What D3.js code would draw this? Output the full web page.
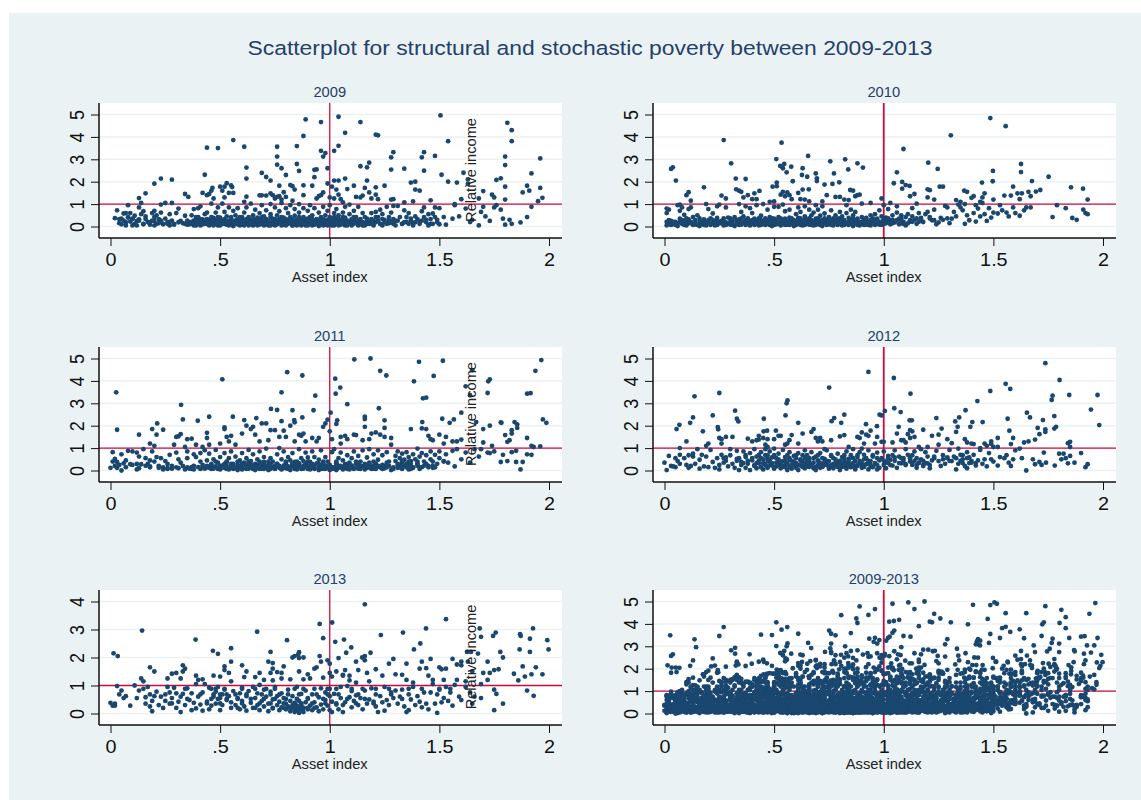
<!DOCTYPE html>
<html><head><meta charset="utf-8">
<script src="https://cdn.jsdelivr.net/npm/d3@7"></script>
<style>html,body{margin:0;padding:0;background:#fff}svg{display:block}text{font-family:"Liberation Sans",Arial,sans-serif}</style>
</head><body><div id="chart"></div>
<script>
const chartTitle="Scatterplot for structural and stochastic poverty between 2009-2013";
const xTickValues=[0,.5,1,1.5,2];
const xTickLabels=["0",".5","1","1.5","2"];
const yTicksMain=[0,1,2,3,4,5];
const yTicks2013=[0,1,2,3,4];
const refX=1, refY=1;

const points2009=[
[.89,4.78],[.96,4.66],[1.04,4.9],[1.14,4.66],[1.505,4.96],[1.81,4.63],[1.83,4.3],[1.83,3.81],[.88,4.04],[1.07,4.18],[1.21,4.1],[1.22,4.07],[1.54,3.81],[.56,3.86],[.44,3.52],[.49,3.5],[.61,3.56],[.76,3.56],[.85,3.59],[1.04,3.6],[1.02,3.38],[.96,3.38],[.98,3.28],[.97,3.12],[.76,3.12],[1.29,3.32],[1.28,3.09],[1.43,3.32],[1.42,3.09],[1.48,3.15],[1.8,3.12],[1.96,3.04],[.85,2.79],[.76,2.76],[.78,2.6],[.62,2.63],[.99,2.6],[.94,2.55],[.93,2.53],[1.14,2.69],[1.18,2.85],[1.17,2.64],[1.28,2.54],[1.34,2.58],[1.43,2.49],[1.8,2.74],[1.92,2.37],[.86,2.48],[.69,2.39],[.43,2.31],[.71,2.21],[.8,2.3],[.93,2.2],[1.51,2.31],[1.61,2.4],[.23,2.14],[.62,2.14],[.28,2.09],[.73,2.05],[.2,1.91],[1.02,2.05],[1.04,2.05],[1.07,2.14],[1.17,2.05],[1.54,2],[1.58,1.96],[1.37,1.96],[1.39,2],[1.76,2.08],[1.78,2.15],[1.63,2.1],[1.63,1.9],
[.16,1.48],[.13,1.27],[.34,1.45],[.355,1.32],[.42,1.5],[.44,1.4],[.45,1.45],[.46,1.6],[.465,1.72],[.5,1.78],[.51,1.6],[.52,1.78],[.53,1.93],[.55,1.83],[.555,1.76],[.54,1.5],[.56,1.5],[.52,1.3],[.47,1.25],[.62,1.33],[.61,1.1],[.68,1.39],[.69,1.39],[.71,1.38],[.73,1.48],[.74,1.4],[.75,1.25],[.76,1.32],[.77,1.35],[.77,1.82],[.78,1.2],[.79,1.53],[.8,1.32],[.82,1.85],[.83,1.8],[.83,1.15],[.84,1.65],[.88,1.84],[.92,1.82],[.88,1.4],[.94,1.25],[.95,1.35],[.96,1.4],[.97,1.52],[.99,1.92],[1,1.3],[1.01,1.78],[1.02,1.25],[1.03,1.65],[1.04,1.42],[1.06,1.08],[1.08,1.67],[1.11,1.82],[1.12,1.32],[1.14,1.3],[1.15,1.38],[1.16,1.72],[1.18,1.52],[1.19,1.25],[1.21,1.75],[1.21,1.42],[1.25,1.82],[1.22,1.22],[1.28,1.2],[1.29,1.22],[1.38,1.12],[1.39,1.65],[1.41,1.6],[1.46,1.17],[1.6,1.22],[1.7,1.58],[1.68,1.25],[1.74,1.42],[1.75,1.3],[1.8,1.78],[1.8,1.2],[1.88,1.52],[1.9,1.82],[1.91,1.6],[1.96,1.72],[1.97,1.28],[1.95,1.13],[1.05,1.22],[1.34,1.08],[1.57,1],
[.03,.72],[.02,.37],[.04,.15],[.05,.35],[.05,.1],[.06,.58],[.07,.05],[.07,.6],[.08,.95],[.08,.4],[.09,.22],[.09,.6],[.1,.05],[.1,.35],[.11,.48],[.11,.12],[.12,.25],[.13,.85],[.13,.32],[.14,.55],[.14,1.05],[.15,.68],[.15,.1],[.16,.45],[.17,.2],[.18,.08],[.19,.6],[.2,.7],[.2,.25],[.21,.5],[.22,.15],[.23,.62],[.23,.98],[.24,.1],[.25,.35],[.25,1.05],[.26,.12],[.27,.55],[.27,.2],[.28,1.05],[.29,.08],[.3,.6],[.31,.8],[.32,.25],[.33,.15],[.34,.48],[.35,.08],[.36,.1],[.37,.2],[.37,.5],[.38,.78],[.38,.12],[.39,.3],[.39,.05],[.4,.82],[.4,.42],[.41,.9],[.41,.18],[.42,.1],[.42,.32],[.43,.55],[.43,.22],[.44,.12],[.44,.62],[.45,.3],[.45,.08],[.46,1.02],[.46,.2],[.47,.38],[.47,.15],[.48,.62],[.48,.28],[.49,.05],[.49,.85],[.5,.2],[.5,.4],[.51,.12],[.51,1.02],[.52,.3],[.52,.65],[.53,.08],[.53,.45],[.54,.22],[.54,.85],[.55,.12],[.55,.35],[.56,.02],[.56,.7],[.57,.25],[.57,.5],[.58,.1],[.58,.82],[.59,.3],[.59,.18],[.6,.42],[.6,.08],[.61,.28],[.61,.62],[.62,.15],[.62,.85],[.63,.35],[.63,.05],[.64,.22],[.64,1.02],[.65,.5],[.65,.12],[.66,.3],[.66,.75],[.67,.18],[.67,.4],[.68,.08],[.68,.6],[.69,.28],[.69,.95],[.7,.15],[.7,.45],[.71,.72],[.71,.3],[.72,.05],[.72,.2],[.73,.55],[.73,1],[.74,.12],[.74,.35],[.75,.25],[.75,.85],[.76,.5],[.76,.1],[.77,.3],[.77,.68],[.78,.18],[.78,1.05],[.79,.4],[.79,.08],[.8,.25],[.8,.82],[.81,.6],[.81,.14],[.82,.35],[.82,.95],[.83,.05],[.83,.22],[.84,.48],[.84,.78],[.85,.15],[.85,.32],[.86,.62],[.86,1],[.87,.1],[.87,.28],[.88,.42],[.88,.82],[.89,.18],[.89,.05],[.9,.35],[.9,.7],[.91,.12],[.91,.95],[.92,.25],[.92,.5],[.93,.08],[.93,.82],[.94,.3],[.94,.18],[.95,.62],[.95,.02],[.96,.12],[.96,.38],[.97,.22],[.97,.88],[.98,.5],[.98,.08],[.99,.3],[.99,.7],[1,.15],[1,.42],[1,.95],[1.01,.05],[1.01,.25],[1.02,.6],[1.02,.12],[1.03,.78],[1.03,.35],[1.04,.18],[1.04,.5],[1.05,.08],[1.05,.3],[1.06,.62],[1.06,.15],[1.07,.88],[1.07,.4],[1.08,.22],[1.08,.05],[1.09,.55],[1.09,.98],[1.1,.12],[1.1,.3],[1.11,.7],[1.12,.18],[1.12,.42],[1.13,.88],[1.13,.08],[1.14,.25],[1.15,.6],[1.15,.05],[1.16,.15],[1.17,.35],[1.18,.12],[1.19,.6],[1.2,.2],[1.21,.65],[1.22,.42],[1.23,.75],[1.23,.12],[1.24,.55],[1.25,.3],[1.26,.88],[1.27,.15],[1.28,.62],[1.29,.92],[1.3,.25],[1.31,.92],[1.32,.42],[1.33,.12],[1.34,.72],[1.35,.2],[1.36,.6],[1.37,.35],[1.38,.15],[1.39,.45],[1.41,.22],[1.42,.68],[1.43,.85],[1.44,.3],[1.45,.55],[1.46,.12],[1.47,.58],[1.48,.85],[1.49,.3],[1.5,.82],[1.5,.1],[1.52,.42],[1.53,.08],[1.56,.35],[1.57,.95],[1.59,.45],[1.62,.8],[1.64,.2],[1.65,.3],[1.68,.05],[1.69,.65],[1.7,.88],[1.71,.45],[1.73,.25],[1.75,.85],[1.76,.95],[1.78,.75],[1.79,.35],[1.8,.08],[1.82,.3],[1.83,.12],[1.87,.18],[1.9,.42],[1.92,.88]
];
const band2009=[
[.05,[.12,.2,.27,.38,.41,.45,.47,.5,.54,.56,.59,.61,.65,.67,.7,.73,.75,.78,.8,.83,.85,.87,.9,.92,.95,.97,.99,1.02,1.04,1.07,1.1,1.13,1.16,1.2,1.24,1.3,1.38,1.45]],
[.12,[.15,.21,.24,.29,.34,.37,.39,.43,.44,.46,.48,.52,.53,.56,.58,.6,.63,.64,.66,.69,.71,.73,.76,.79,.81,.84,.86,.88,.91,.93,.95,.98,1.01,1.03,1.05,1.08,1.11,1.14,1.17,1.19,1.23,1.26,1.29,1.33,1.36,1.41,1.47]],
[.19,[.07,.18,.26,.31,.36,.38,.4,.42,.45,.47,.49,.51,.54,.56,.58,.61,.63,.65,.68,.7,.72,.74,.77,.79,.82,.84,.87,.89,.9,.92,.95,.97,1,1.02,1.05,1.07,1.09,1.12,1.15,1.18,1.21,1.25,1.28,1.34,1.39,1.44,1.49]],
[.26,[.06,.13,.19,.23,.28,.35,.38,.41,.43,.46,.48,.5,.53,.55,.57,.6,.62,.64,.67,.69,.72,.74,.76,.78,.81,.83,.85,.88,.9,.93,.96,.98,1.01,1.03,1.06,1.08,1.11,1.13,1.17,1.2,1.22,1.27,1.31,1.37,1.42]],
[.33,[.04,.1,.16,.22,.39,.41,.44,.47,.5,.52,.55,.58,.62,.65,.68,.71,.75,.77,.8,.83,.86,.89,.92,.94,.97,1,1.04,1.07,1.1,1.14,1.19,1.24,1.29,1.4,1.46]],
[.42,[.08,.2,.39,.46,.49,.55,.59,.63,.69,.73,.78,.82,.86,.91,.96,1.02,1.06,1.11,1.16,1.21,1.27,1.35,1.43,1.48]]
];

const points2010=[
[1.486,4.84],[1.556,4.48],[1.306,4.07],[.27,3.86],[.534,3.74],[1.09,3.46],[.655,3.15],[.51,3.01],[.824,3],[.756,2.91],[.304,2.82],[.88,2.82],[1.203,2.85],[1.626,2.79],[.038,2.64],[.03,2.57],[.528,2.7],[.546,2.79],[.54,2.6],[.578,2.67],[.63,2.6],[.905,2.63],[.838,2.55],[1.246,2.57],[1.06,2.42],[1.498,2.48],[1.626,2.43],[.557,2.42],[.69,2.37],[.773,2.37],[.627,2.3],[.651,2.22],[1.752,2.22],[.052,2.05],[.325,2.14],[.37,2.12],[.695,2.15],[.695,2.03],[.585,2.02],[.512,1.96],[1.046,1.93],[1.084,1.99],[1.448,1.96],[1.497,2.02],[1.676,2.03],[.73,1.87],[.766,1.9],[.797,1.97],[.493,1.78],[.512,1.8],[.18,1.75],[1.118,1.81],[1.255,1.78],[1.27,1.78],[1.59,1.78],[1.854,1.75],[1.909,1.69],[1.084,1.69],[.327,1.66],[.658,1.66],[.847,1.63],[1.2,1.66],[1.367,1.6],[1.694,1.56],[1.714,1.63],[.11,1.53],[.433,1.59],[.34,1.6],[.35,1.55],[.1,1.4],[.26,1.38],[.28,1.25],[.36,1.3],[.38,1.4],[.4,1.22],[.41,1.48],[.42,1.22],[.5,1.12],[.53,1.42],[.54,1.55],[.55,1.35],[.56,1.52],[.57,1.4],[.58,1.22],[.61,1.5],[.62,1.22],[.63,1.65],[.64,1.2],[.66,1.12],[.72,1.12],[.74,1.4],[.78,1.32],[.8,1.32],[.82,1.2],[.84,1.18],[.86,1.6],[.87,1.35],[.88,1.4],[.89,1.42],[.9,1.02],[.94,1.05],[.99,1.25],[1.03,1.05],[1.1,1.85],[1.12,1.35],[1.14,1.45],[1.15,1.02],[1.2,1.3],[1.21,1.62],[1.23,1.2],[1.33,1.18],[1.35,1.1],[1.38,1.55],[1.4,1.28],[1.41,1.35],[1.44,1.1],[1.45,1.3],[1.46,1.48],[1.5,1.2],[1.55,1.38],[1.58,1.38],[1.62,1.22],[1.63,1.48],[1.61,1.48],[1.66,1.55],[1.67,1.35],[1.93,1.2],[.12,1.15],[.48,1.1],[.07,.98],
[.01,.8],[.01,.6],[.01,.2],[.01,.05],[.02,.75],[.02,.15],[.03,.08],[.03,.25],[.04,.12],[.05,.2],[.06,.95],[.06,.02],[.07,.35],[.07,.7],[.08,.12],[.08,.85],[.09,.25],[.09,.52],[.1,.05],[.11,.32],[.11,.78],[.12,.15],[.12,.85],[.13,.42],[.14,.1],[.15,.5],[.16,.02],[.17,.18],[.18,.32],[.19,.05],[.19,1],[.2,.78],[.2,.22],[.21,.1],[.22,.58],[.22,.3],[.23,.05],[.24,.9],[.24,.38],[.25,.14],[.25,.98],[.26,.25],[.27,.05],[.28,.85],[.28,.18],[.29,.4],[.3,.08],[.31,.22],[.32,.42],[.32,.02],[.33,.15],[.34,.32],[.34,1],[.35,.08],[.35,.65],[.36,.2],[.36,.45],[.37,.1],[.37,.9],[.38,.3],[.39,.05],[.39,.82],[.4,.18],[.4,.6],[.41,.35],[.42,.12],[.42,.95],[.43,.25],[.43,.05],[.44,.48],[.45,.15],[.45,1],[.46,.32],[.46,.08],[.47,.22],[.47,.75],[.48,.12],[.48,.42],[.49,.02],[.49,.25],[.5,.35],[.5,.88],[.51,.1],[.51,.18],[.52,.42],[.52,.88],[.53,.05],[.53,.28],[.54,.15],[.54,.98],[.55,.35],[.55,.68],[.56,.08],[.56,.22],[.57,.4],[.57,.75],[.58,.12],[.58,.3],[.59,.02],[.6,.2],[.6,.55],[.61,.38],[.61,.85],[.62,.12],[.62,.65],[.63,.25],[.63,.05],[.64,.45],[.64,.9],[.65,.15],[.65,.3],[.66,.75],[.66,.08],[.67,.5],[.67,.22],[.68,.05],[.68,.62],[.69,.35],[.69,.95],[.7,.12],[.7,.75],[.71,.25],[.71,.48],[.72,.02],[.72,.9],[.73,.18],[.73,.58],[.74,.3],[.74,.08],[.75,.42],[.75,.15],[.76,.72],[.77,.25],[.77,.05],[.78,.5],[.78,.18],[.79,.1],[.79,.35],[.8,.65],[.8,.22],[.81,.05],[.81,.45],[.82,.15],[.82,.28],[.83,.6],[.83,.95],[.84,.1],[.84,.38],[.85,.75],[.85,.2],[.86,.02],[.86,.5],[.87,.28],[.87,.65],[.88,.12],[.88,.35],[.89,.2],[.89,.05],[.9,.42],[.9,.15],[.91,.28],[.92,.08],[.92,.38],[.93,.18],[.94,.5],[.94,.05],[.95,.25],[.96,.12],[.96,.55],[.97,.35],[.98,.08],[.98,.72],[.99,.2],[.99,.45],[1,.95],[1,.3],[1,.12],[1.01,.4],[1.02,.78],[1.02,.22],[1.03,.1],[1.04,.5],[1.04,.3],[1.05,.18],[1.06,.62],[1.06,.9],[1.07,.35],[1.07,.1],[1.08,.5],[1.08,.25],[1.09,.12],[1.1,.42],[1.1,.05],[1.11,.55],[1.12,.22],[1.13,.82],[1.13,.45],[1.14,.3],[1.15,.12],[1.16,.6],[1.17,.38],[1.18,.2],[1.19,.55],[1.2,.65],[1.21,.42],[1.22,.28],[1.23,.75],[1.24,.1],[1.25,.18],[1.26,.38],[1.27,.3],[1.28,.92],[1.29,.85],[1.3,.15],[1.31,.35],[1.32,.65],[1.33,.45],[1.34,.98],[1.35,.85],[1.36,.72],[1.37,.12],[1.37,1],[1.38,.5],[1.39,.28],[1.41,.6],[1.42,.95],[1.42,.22],[1.43,.8],[1.44,.45],[1.45,1.05],[1.46,.55],[1.47,.25],[1.48,.82],[1.49,.4],[1.5,.62],[1.52,.58],[1.53,.95],[1.54,.72],[1.56,.62],[1.57,.45],[1.59,.85],[1.6,.6],[1.62,.48],[1.64,.72],[1.65,.85],[1.67,.85],[1.79,.95],[1.77,.42],[1.83,.82],[1.86,.38],[1.88,.3],[1.91,.75],[1.92,.6],[1.93,.55]
];
const band2010=[
[.07,[.03,.05,.09,.13,.15,.18,.21,.24,.28,.31,.34,.37,.39,.41,.44,.46,.48,.5,.53,.55,.57,.6,.62,.64,.67,.69,.71,.74,.76,.79,.82,.84,.88,.91,.93,.96,.99]],
[.14,[.02,.06,.08,.11,.14,.17,.19,.22,.26,.29,.33,.35,.38,.4,.42,.45,.47,.49,.52,.54,.56,.59,.61,.63,.65,.68,.7,.72,.75,.77,.8,.83,.86,.89,.92,.94,.97,1.01,1.04,1.08,1.11]],
[.21,[.03,.04,.07,.1,.12,.16,.18,.23,.25,.27,.3,.34,.36,.39,.41,.43,.46,.48,.5,.53,.55,.58,.6,.62,.66,.68,.7,.73,.75,.78,.81,.84,.87,.9,.93,.95,.98,1.02,1.05,1.09,1.13,1.16]],
[.28,[.02,.08,.11,.14,.2,.24,.31,.33,.37,.4,.42,.44,.47,.51,.54,.57,.59,.61,.64,.67,.69,.72,.76,.78,.81,.85,.88,.91,.94,.97,1,1.03,1.06,1.12,1.17,1.23]],
[.36,[.1,.16,.21,.27,.3,.35,.38,.43,.46,.49,.53,.58,.62,.66,.7,.73,.77,.8,.86,.92,.95,1.02,1.08,1.15,1.21,1.29]]
];

const points2011=[
[.026,3.49],[.51,4.07],[.806,4.39],[.875,4.24],[1.112,4.96],[1.186,5],[1.23,4.45],[1.258,4.24],[1.025,4.1],[1.048,3.7],[1.027,3.43],[.934,3.34],[.78,3.49],[1.08,2.96],[.322,2.93],[1.407,4.85],[1.516,4.9],[1.474,4.22],[1.384,3.98],[1.965,4.93],[1.938,4.45],[1.73,4.07],[1.723,3.98],[1.72,3.46],[1.9,3.43],[1.916,3.45],[1.425,3.22],[1.44,3.25],[1.65,4.48],[1.62,3.76],[1.64,3.36],[1.224,2.78],[.732,2.75],[.76,2.7],[.83,2.69],[.926,2.69],[1.004,2.58],[1.6,2.58],[.558,2.4],[.45,2.4],[.665,2.34],[.875,2.37],[1.16,2.4],[1.16,2.3],[.33,2.28],[.398,2.22],[.61,2.25],[.838,2.25],[.99,2.27],[1.034,2.24],[1.25,2.24],[1.513,2.31],[1.566,2.28],[1.547,2.13],[1.422,2.16],[1.668,2.16],[1.972,2.28],[1.988,2.13],[1.783,2.13],[.213,2.1],[1.843,2.16],[1.855,2.06],[1.855,1.9],[.03,1.82],[.19,1.85],[.24,1.82],[.21,1.6],[.13,1.6],[.44,1.68],[.44,1.45],[.3,1.5],[.32,1.62],[.31,1.53],[.35,1.4],[.37,1.42],[.52,1.92],[.52,1.85],[.53,1.5],[.55,1.55],[.5,1.2],[.62,2],[.6,1.65],[.65,1.95],[.64,1.85],[.66,1.6],[.69,2.1],[.71,2.1],[.72,1.35],[.73,1.8],[.75,1.8],[.77,1.5],[.78,2.2],[.79,1.78],[.8,1.5],[.82,2],[.84,2.15],[.86,1.6],[.87,1.55],[.88,1.65],[.89,1.3],[.92,1.45],[.94,1.3],[.95,1.45],[.97,1.95],[.98,2.1],[1.0,1.75],[1.01,1.4],[1.03,2.08],[1.05,1.5],[1.07,1.55],[1.08,1.4],[1.11,1.6],[1.12,1.58],[1.15,1.35],[1.16,1.95],[1.18,1.4],[1.19,1.65],[1.21,1.7],[1.23,1.6],[1.25,1.9],[1.25,1.5],[1.28,1.45],[1.37,1.85],[1.42,1.88],[1.44,1.85],[1.45,1.55],[1.46,1.4],[1.47,1.35],[1.5,1.6],[1.52,1.2],[1.53,1.5],[1.56,1.3],[1.58,1.3],[1.6,1.38],[1.7,1.85],[1.73,2],[1.7,1.25],[1.74,1.1],[1.78,2.15],[1.8,1.58],[1.81,1.28],[1.82,1.35],[1.83,1.8],[1.83,1.65],[1.9,1.45],[1.92,1.1],[1.93,1.05],[1.96,1.08],[.18,1.2],[.2,1.1],[.29,1.15],[.34,1.05],[.39,1.15],[.42,1.05],[.45,1.15],[.54,1.3],[.57,1.15],[.68,1.3],[.84,1.3],[1.05,1.2],
[.0,.12],[.01,.82],[.01,.4],[.02,.52],[.02,.2],[.03,.38],[.03,.12],[.04,.25],[.05,0],[.05,.72],[.06,.32],[.07,.45],[.07,.15],[.08,.88],[.09,.28],[.1,.85],[.1,.25],[.12,.8],[.12,.05],[.13,.62],[.13,.1],[.14,.28],[.15,.95],[.16,.55],[.17,.3],[.18,.45],[.18,.18],[.19,.85],[.21,.6],[.22,.12],[.23,.55],[.24,.05],[.25,.42],[.26,.1],[.27,.7],[.28,.08],[.3,.8],[.31,.1],[.31,.5],[.32,.35],[.33,.2],[.34,.05],[.35,.55],[.35,.85],[.36,.08],[.37,.15],[.38,.72],[.38,.05],[.39,.6],[.4,.15],[.41,.78],[.42,.25],[.43,.08],[.43,.9],[.44,.45],[.45,.12],[.45,.75],[.46,.25],[.47,.08],[.47,.5],[.48,.92],[.48,.18],[.49,.35],[.5,.05],[.5,.6],[.51,.22],[.52,.78],[.52,.12],[.53,.38],[.54,.05],[.54,.55],[.55,.2],[.55,.85],[.56,.3],[.57,.1],[.57,.62],[.58,.02],[.58,.25],[.59,.45],[.59,.15],[.6,.78],[.6,.05],[.61,.35],[.61,.12],[.62,.2],[.62,.55],[.63,.08],[.63,.92],[.64,.28],[.64,.42],[.65,.15],[.65,.72],[.66,.02],[.66,.25],[.67,.5],[.67,.12],[.68,.85],[.68,.32],[.69,.08],[.69,.2],[.7,.6],[.7,.38],[.71,.12],[.71,.98],[.72,.02],[.72,.25],[.73,.55],[.73,.15],[.74,.4],[.75,.08],[.75,.2],[.76,.72],[.76,.3],[.77,.12],[.77,1],[.78,.5],[.78,.05],[.79,.22],[.79,.85],[.8,.1],[.8,.35],[.81,.6],[.81,.18],[.82,.02],[.82,.45],[.83,.28],[.83,.78],[.84,.12],[.84,.38],[.85,.05],[.85,.22],[.86,.32],[.86,.95],[.87,.15],[.87,.55],[.88,.42],[.88,.08],[.89,.8],[.89,.28],[.9,.15],[.9,.58],[.91,.38],[.91,.05],[.92,.85],[.92,.2],[.93,.1],[.93,.6],[.94,.32],[.95,.48],[.95,.02],[.96,.18],[.96,.9],[.97,.3],[.97,.08],[.98,.6],[.98,.2],[.99,.12],[.99,.4],[1,.02],[1,.25],[1.01,.82],[1.01,.15],[1.02,.08],[1.02,.95],[1.03,.32],[1.03,.02],[1.04,.12],[1.04,.55],[1.05,.2],[1.05,.8],[1.06,.05],[1.06,.45],[1.07,.12],[1.07,.28],[1.08,.68],[1.08,.18],[1.09,.35],[1.09,.05],[1.1,.55],[1.1,.22],[1.11,.85],[1.11,.12],[1.12,.3],[1.13,.65],[1.13,.08],[1.14,.4],[1.15,.18],[1.15,.9],[1.16,.05],[1.16,.3],[1.17,.58],[1.17,.12],[1.18,.95],[1.18,.35],[1.19,.2],[1.2,.72],[1.2,.08],[1.21,.3],[1.22,.9],[1.22,.48],[1.23,.15],[1.24,.68],[1.24,.25],[1.25,.1],[1.26,.82],[1.26,.35],[1.27,.2],[1.28,1.15],[1.28,.02],[1.3,.65],[1.3,.42],[1.31,.85],[1.31,.12],[1.32,.55],[1.32,.25],[1.33,.75],[1.33,.1],[1.34,.48],[1.35,.3],[1.35,.82],[1.36,.05],[1.36,.6],[1.37,.18],[1.37,.42],[1.38,.72],[1.38,.12],[1.39,.5],[1.4,.98],[1.4,.28],[1.41,.62],[1.42,.78],[1.42,.15],[1.43,.4],[1.44,.68],[1.45,.2],[1.46,.85],[1.46,.5],[1.47,.12],[1.48,.7],[1.49,.3],[1.5,.85],[1.5,.55],[1.52,.42],[1.53,.72],[1.54,.35],[1.56,.88],[1.57,.18],[1.58,.95],[1.6,.5],[1.62,.8],[1.64,.35],[1.66,.95],[1.68,.62],[1.69,.95],[1.72,.8],[1.73,.78],[1.75,.85],[1.78,.38],[1.79,.7],[1.81,.42],[1.83,.82],[1.85,.88],[1.85,.38],[1.87,.05],[1.88,.38],[1.9,.72],[1.92,.7]
];
const band2011=[
[.07,[.26,.37,.41,.46,.49,.53,.56,.6,.62,.65,.68,.7,.73,.75,.78,.81,.84,.87,.9,.93,.96,.98,1.01,1.03,1.06,1.08,1.11,1.14,1.19,1.21,1.24,1.29,1.33,1.37,1.41]],
[.14,[.18,.24,.3,.35,.42,.44,.47,.51,.55,.58,.61,.64,.66,.69,.71,.74,.77,.79,.82,.85,.88,.9,.92,.95,.97,1,1.02,1.05,1.07,1.1,1.13,1.16,1.18,1.2,1.23,1.26,1.29,1.32,1.35,1.38,1.41,1.45,1.48]],
[.21,[.16,.22,.28,.38,.44,.46,.5,.53,.56,.59,.62,.64,.67,.7,.72,.75,.77,.8,.83,.85,.88,.91,.93,.96,.99,1.04,1.07,1.1,1.14,1.17,1.2,1.22,1.25,1.31,1.34,1.36,1.4,1.43,1.47]],
[.29,[.12,.26,.46,.52,.55,.6,.63,.66,.7,.73,.76,.8,.83,.86,.89,.92,.95,.97,1.03,1.08,1.13,1.18,1.21,1.31,1.33,1.37,1.4,1.44]],
[.4,[.2,.41,.48,.53,.58,.63,.68,.72,.8,.85,.9,.97,1.03,1.12,1.2,1.27,1.33,1.36,1.4,1.47,1.52]]
];

const points2012=[
[.93,4.4],[1.046,4.13],[1.737,4.79],[1.802,4.04],[1.556,3.87],[1.577,3.64],[.751,3.7],[1.486,3.55],[1.122,3.43],[.137,3.31],[.25,3.46],[1.846,3.37],[1.975,3.37],[1.77,3.34],[1.766,3.15],[.561,3.13],[.557,3],[1.427,3.1],[1.048,2.78],[.322,2.67],[1.005,2.66],[1.077,2.61],[1.373,2.69],[1.653,2.58],[1.945,2.72],[1.667,2.37],[.981,2.49],[.99,2.46],[.82,2.49],[.552,2.46],[.22,2.46],[.13,2.37],[.117,2.13],[.33,2.31],[.337,2.19],[.453,2.31],[.774,2.34],[.762,2.2],[.806,2.13],[.61,2.13],[1.24,2.34],[1.344,2.37],[1.326,2.19],[1.565,2.31],[1.726,2.25],[1.778,2.43],[1.404,2.16],[1.451,2.16],[1.118,2.24],[1.128,2.24],[.919,2.07],[.068,2.04],[1.983,2.03],[.969,1.98],[.055,1.85],[.243,1.94],[.245,1.84],[1.068,1.95],[1.337,1.95],[1.395,1.95],[1.786,1.95],[1.778,1.87],[1.737,1.84],[1.737,1.72],[1.264,1.87],[1.573,1.78],[1.702,1.9],[.175,1.75],[.508,1.78],[.452,1.75],[.468,1.78],
[.1,1.3],[.19,1.1],[.2,1.2],[.25,1.45],[.26,1.2],[.26,1.4],[.28,1.5],[.31,1.5],[.38,1.42],[.4,1.3],[.42,1.35],[.43,1.38],[.43,1.55],[.45,1.45],[.46,1.15],[.47,1.4],[.47,1.05],[.5,1.4],[.52,1.55],[.53,1.55],[.55,1.15],[.57,1.35],[.58,1.58],[.56,1.2],[.61,1.2],[.63,1.65],[.67,1.72],[.68,1.85],[.69,1.45],[.7,1.3],[.71,1.45],[.72,1.3],[.73,.95],[.76,1.35],[.8,1.52],[.82,1.58],[.84,1.05],[.88,1.5],[.89,1.45],[.9,1.7],[.91,1.2],[.92,1.6],[.93,1.55],[.94,1.78],[.96,1.2],[.97,1.5],[.99,1.28],[1,1.28],[1.04,1.25],[1.06,1.65],[1.08,1.35],[1.09,1.35],[1.1,1.25],[1.11,1.62],[1.12,1.8],[1.13,1.75],[1.12,1.45],[1.14,1.5],[1.16,1.05],[1.18,1.82],[1.2,1.05],[1.22,1.55],[1.25,1.6],[1.25,1.15],[1.29,1.4],[1.31,1.22],[1.33,1.72],[1.37,1.4],[1.38,1.25],[1.4,1.2],[1.41,1.18],[1.44,1],[1.46,1.2],[1.47,1.1],[1.49,1.3],[1.49,1.18],[1.5,1.05],[1.52,1.05],[1.52,1.45],[1.58,1.18],[1.59,1.45],[1.6,.9],[1.64,1.25],[1.66,1.3],[1.69,1.38],[1.71,1.62],[1.84,1.22],[1.85,1.28],[1.85,1.05],
[.01,.02],[.0,.35],[.02,.65],[.03,.2],[.04,.18],[.05,.15],[.05,.55],[.06,.42],[.07,.7],[.07,.3],[.07,1],[.09,.55],[.1,.25],[.11,.12],[.11,.68],[.12,.2],[.13,.62],[.13,.75],[.14,.3],[.15,.95],[.16,.08],[.16,.48],[.17,.7],[.18,.18],[.19,.62],[.2,.15],[.21,.92],[.22,.38],[.23,.12],[.24,.55],[.25,.05],[.25,.25],[.26,.7],[.27,.35],[.28,.58],[.29,.18],[.3,.95],[.31,.3],[.32,.12],[.33,.52],[.33,.88],[.34,.02],[.35,.38],[.36,.85],[.37,.12],[.37,.6],[.38,.3],[.39,.78],[.39,.02],[.4,.45],[.41,.2],[.41,.95],[.42,.62],[.42,.1],[.43,.32],[.44,.82],[.44,.15],[.45,.5],[.45,.05],[.46,.95],[.46,.28],[.47,.68],[.47,.12],[.48,.42],[.48,.85],[.49,.22],[.49,.58],[.5,.08],[.5,.98],[.51,.35],[.51,.18],[.52,.5],[.52,.75],[.53,.25],[.53,.1],[.54,.42],[.54,.92],[.55,.15],[.55,.6],[.56,.3],[.56,.02],[.57,.48],[.57,.82],[.58,.2],[.58,.08],[.59,.38],[.59,.65],[.6,.12],[.6,.28],[.61,.78],[.61,.02],[.62,.5],[.62,.22],[.63,.38],[.63,.68],[.64,.1],[.64,.9],[.65,.3],[.65,.18],[.66,.55],[.66,.42],[.67,.25],[.67,.82],[.68,.1],[.68,.35],[.69,.62],[.69,.02],[.7,.2],[.7,.45],[.71,.78],[.71,.12],[.72,.3],[.72,.18],[.73,.52],[.73,.38],[.74,.25],[.74,.9],[.75,.08],[.75,.42],[.76,.18],[.76,.65],[.77,.3],[.77,.1],[.78,.5],[.78,.22],[.79,.75],[.79,.35],[.8,.12],[.8,.02],[.81,.28],[.81,.6],[.82,.18],[.82,.42],[.83,.08],[.83,.85],[.84,.32],[.84,.52],[.85,.15],[.85,.68],[.86,.25],[.86,.95],[.87,.42],[.87,.05],[.88,.6],[.88,.2],[.89,.82],[.89,.35],[.9,.12],[.9,.98],[.91,.5],[.91,.7],[.92,.28],[.93,.05],[.93,.9],[.94,.42],[.95,.15],[.95,.62],[.96,.3],[.97,.05],[.97,.8],[.98,.45],[.98,.12],[.99,.55],[1,.25],[1,.85],[1.01,.38],[1.01,.1],[1.02,.65],[1.03,.48],[1.04,.22],[1.05,.9],[1.05,.58],[1.06,.12],[1.07,.62],[1.08,.32],[1.09,.55],[1.1,.95],[1.1,.28],[1.11,.7],[1.12,.4],[1.13,.25],[1.14,.85],[1.15,.55],[1.15,.12],[1.16,.35],[1.17,.95],[1.17,.5],[1.18,.2],[1.19,.82],[1.2,.32],[1.2,.62],[1.21,.1],[1.22,.45],[1.23,.62],[1.24,.88],[1.25,.42],[1.26,.2],[1.27,.5],[1.28,.3],[1.29,.58],[1.3,.92],[1.31,.42],[1.32,.62],[1.33,.05],[1.34,.3],[1.34,.98],[1.35,.7],[1.36,.5],[1.37,.2],[1.38,.82],[1.38,.1],[1.39,.58],[1.4,.35],[1.41,.7],[1.42,.22],[1.43,.45],[1.44,.92],[1.45,.3],[1.46,.5],[1.47,.18],[1.48,.78],[1.49,.5],[1.5,.4],[1.52,.22],[1.53,.6],[1.55,.55],[1.56,.68],[1.57,.35],[1.58,.2],[1.59,.5],[1.62,.98],[1.63,.55],[1.65,0],[1.68,.5],[1.69,.28],[1.71,.38],[1.72,.25],[1.73,.8],[1.74,.35],[1.78,.22],[1.8,.75],[1.81,.5],[1.82,.75],[1.83,.55],[1.84,.32],[1.85,.65],[1.87,.35],[1.9,.78],[1.92,.15],[1.93,.28]
];
const band2012=[
[.16,[.44,.47,.5,.54,.57,.6,.63,.66,.69,.72,.75,.77,.79,.81,.83,.85,.87,.91,.94]],
[.24,[.35,.41,.46,.48,.52,.55,.58,.61,.64,.67,.7,.73,.76,.78,.8,.82,.84,.86,.88,.9,.94,.97,1.03,1.1,1.15,1.18,1.21]],
[.33,[.36,.42,.45,.49,.53,.56,.6,.63,.66,.71,.74,.78,.83,.86,.9,.93,.96,1.02,1.07,1.13,1.16,1.19,1.36,1.39,1.42]],
[.43,[.28,.33,.38,.43,.47,.52,.55,.58,.62,.65,.7,.74,.8,.84,.89,.93,1,1.05,1.09,1.14,1.18,1.3,1.35,1.4]],
[.55,[.27,.34,.4,.44,.47,.51,.57,.6,.64,.68,.72,.77,.82,.86,.92,.97,1.02,1.08,1.12,1.23,1.29,1.33,1.38]],
[.68,[.3,.37,.43,.46,.5,.56,.6,.65,.7,.76,.82,.88,.95,1.04,1.13,1.27,1.36]]
];

const points2013=[
[1.16,3.9],[1.53,3.37],[1.011,3.25],[.954,3.2],[.144,2.96],[.669,2.92],[1.439,3.04],[1.334,2.89],[1.684,3.04],[1.927,3.04],[1.757,2.89],[1.745,2.77],[1.868,2.83],[1.871,2.77],[1.69,2.74],[1.913,2.67],[1.992,2.62],[1.233,2.8],[.97,2.69],[1.065,2.64],[1.025,2.56],[.805,2.62],[.388,2.64],[1.413,2.5],[1.098,2.36],[.55,2.33],[1.384,2.29],[1.866,2.29],[1.998,2.29],[.467,2.24],[.49,2.13],[.014,2.15],[.033,2.05],[.73,2.2],[.86,2.19],[.856,2.1],[.954,2.05],[1.075,2.17],[1.186,2.17],[1.148,2],[1.16,2.05],[1.626,2.2],[1.644,2.2],[1.676,2.14],[1.778,2.2],[1.79,2],[1.913,2.2],
[.18,1.65],[.2,1.5],[.33,1.72],[.34,1.6],[.33,1.5],[.55,1.85],[.52,1.68],[.52,1.55],[.54,1.45],[.6,1.72],[.62,1.5],[.72,1.85],[.74,1.8],[.74,1.6],[.73,1.45],[.68,1.45],[.76,1.48],[.78,1.45],[.79,1.68],[.83,2],[.84,2.05],[.86,1.98],[.88,2],[.86,1.5],[.9,1.4],[.93,1.6],[.94,1.65],[.96,1.85],[.99,1.9],[1,1.78],[1,1.45],[1.03,1.5],[1.06,1.35],[1.07,1.55],[1.09,1.35],[1.04,1.98],[1.12,1.85],[1.13,1.55],[1.16,1.9],[1.17,1.45],[1.21,1.58],[1.27,1.78],[1.29,1.95],[1.3,1.4],[1.33,1.38],[1.35,1.78],[1.41,1.6],[1.42,1.85],[1.44,1.62],[1.45,1.35],[1.46,1.95],[1.5,1.65],[1.51,1.58],[1.53,1.6],[1.56,1.95],[1.58,1.75],[1.6,1.85],[1.6,1.72],[1.63,1.85],[1.65,1.5],[1.7,1.45],[1.72,1.85],[1.73,1.45],[1.75,1.55],[1.77,1.58],[1.84,1.42],[1.86,1.18],[1.88,1.68],[1.89,1.32],[1.92,1.4],[1.94,1.65],[1.97,1.4],[.14,1.25],[.15,1.15],[.26,1.25],[.28,1.42],[.3,1.45],[.32,1.25],[.39,1.35],[.4,1.2],[.42,1.22],[.47,1.35],[.5,1.32],[.55,1.15],[.61,1.3],[.66,1.3],[.7,1.2],[.74,1.18],[.78,1.25],[.82,1.22],[.88,1.22],[.91,1.25],[.97,1.28],[1.01,1.32],[1.06,1.38],[1.09,1.18],[1.12,1.1],[1.18,1.15],[1.24,1.35],[1.35,1.2],[1.38,1.1],[1.47,1.2],[1.52,1.2],[1.58,1.2],[1.62,1.15],[1.69,1.05],[1.72,1.2],[1.9,.82],[1.93,.63],[1.69,.55],[1.75,.85],[1.76,.7],[1.79,.35],[1.75,.12],
[.0,.38],[.01,.28],[.02,.35],[.02,.28],[.03,.98],[.04,.68],[.05,.82],[.06,.55],[.07,.62],[.09,.28],[.11,1],[.12,.55],[.13,.82],[.15,.88],[.16,.58],[.16,.35],[.17,.95],[.18,.25],[.18,.68],[.19,.45],[.19,.08],[.2,.62],[.21,.78],[.22,.3],[.23,.6],[.24,.2],[.25,.45],[.26,.95],[.27,.35],[.27,.75],[.28,.55],[.29,.92],[.3,.2],[.3,.72],[.31,.42],[.32,.05],[.32,.6],[.33,.7],[.34,.3],[.35,.9],[.36,.48],[.37,.12],[.37,.72],[.38,.38],[.39,1.05],[.39,.18],[.4,.6],[.41,.32],[.42,.75],[.42,.1],[.43,1.05],[.44,.42],[.45,.15],[.45,.92],[.46,.28],[.47,.6],[.48,.78],[.48,.35],[.49,.95],[.5,.12],[.5,.55],[.51,.68],[.51,.3],[.52,.85],[.53,.48],[.54,.62],[.55,.2],[.55,.4],[.56,.8],[.57,.3],[.58,.55],[.59,.15],[.59,.72],[.6,.92],[.6,.45],[.61,.25],[.62,.62],[.62,.1],[.63,.8],[.64,.38],[.65,.95],[.65,.2],[.66,.55],[.67,.3],[.67,.72],[.68,.12],[.68,1.02],[.69,.45],[.7,.85],[.7,.25],[.71,.6],[.72,.08],[.72,.35],[.73,.78],[.74,.5],[.74,.18],[.75,.95],[.76,.3],[.76,.62],[.77,.12],[.77,.42],[.78,.72],[.78,.22],[.79,.55],[.8,.35],[.8,.15],[.81,.85],[.81,.25],[.82,.08],[.82,.45],[.83,.18],[.83,.62],[.83,.3],[.84,.05],[.84,.22],[.84,.38],[.85,.12],[.85,.28],[.85,.95],[.86,.02],[.86,.18],[.86,.45],[.87,.1],[.87,.3],[.87,.7],[.88,.2],[.88,.05],[.89,.4],[.89,.82],[.9,.15],[.9,.55],[.91,.28],[.92,.68],[.92,.12],[.93,.4],[.94,.22],[.95,.58],[.95,.08],[.96,.32],[.96,.9],[.97,.15],[.98,.48],[.98,.75],[.99,.28],[1,.62],[1,.88],[1,.12],[1.01,.42],[1.01,.05],[1.02,.7],[1.03,.32],[1.04,.15],[1.05,.55],[1.05,.95],[1.06,.3],[1.06,.05],[1.07,.4],[1.08,.98],[1.09,.58],[1.1,.22],[1.1,.8],[1.11,.45],[1.12,.65],[1.13,.3],[1.14,.55],[1.15,.15],[1.16,.82],[1.17,.35],[1.18,.5],[1.19,.9],[1.2,.42],[1.21,.25],[1.22,.05],[1.23,.62],[1.24,.4],[1.25,.1],[1.25,.95],[1.26,.48],[1.27,.3],[1.28,.75],[1.29,.55],[1.3,.82],[1.31,.35],[1.32,.6],[1.33,.85],[1.34,.25],[1.35,.05],[1.36,.12],[1.37,.5],[1.38,.95],[1.39,.3],[1.4,.62],[1.41,.42],[1.42,.22],[1.43,.75],[1.44,.35],[1.45,.15],[1.46,.75],[1.47,1.05],[1.48,.35],[1.49,.02],[1.5,.85],[1.51,.4],[1.52,.55],[1.53,.95],[1.54,.45],[1.55,.75],[1.56,.28],[1.57,1.02],[1.59,.6],[1.6,.48],[1.62,.95],[1.64,.75],[1.65,.35],[1.66,.6]
];
const band2013=[
[.2,[.58,.66,.74,.79,.82,.84,.86,.88,.9,.93]],
[.36,[.28,.44,.5,.6,.68,.73,.79,.84,.87,.92,.98,1.03,1.12,1.2]],
[.52,[.35,.46,.49,.53,.58,.64,.7,.75,.8,.85,.9,.97,1.08,1.16,1.33]],
[.68,[.25,.41,.47,.5,.53,.57,.62,.69,.73,.77,.81,.86,.94,.99,1.04,1.13,1.21,1.28,1.36,1.49]],
[.88,[.34,.46,.48,.52,.6,.66,.71,.75,.84,.88,.93,.99,1.03,1.1,1.15,1.21,1.27,1.36,1.42,1.5,1.55]]
];

const poolExtra=[
[.1,[.03,.07,.11,.15,.19,.24,.28,.32,.36,.44,.5,.55,.62,.7,.9,1.16,1.22,1.28,1.32,1.36,1.4,1.44,1.47]],
[.25,[.02,.05,.09,.13,.16,.2,.23,.27,.31,.34,.37,.41,.5,.58,.7,.84,1.2,1.26,1.3,1.35,1.39,1.43,1.46,1.5]],
[.42,[.01,.04,.07,.1,.13,.16,.19,.22,.25,.28,.31,.34,.37,.4,.43,.46,.49,.52,.55,.58,.61,.64,.67,.7,.73,.76,.79,.82,.85,.88,.91,.94,.97,1,1.03,1.06,1.09,1.12,1.15,1.18,1.21,1.24,1.27,1.3,1.33,1.36,1.39,1.42,1.45,1.48,1.52,1.56,1.6,1.65,1.7]],
[.58,[.02,.05,.08,.12,.14,.17,.21,.24,.26,.3,.33,.35,.39,.42,.44,.48,.51,.54,.57,.59,.63,.66,.68,.72,.75,.77,.81,.84,.87,.89,.93,.96,.98,1.02,1.05,1.07,1.11,1.14,1.17,1.2,1.23,1.26,1.29,1.32,1.35,1.38,1.41,1.44,1.47,1.5,1.54,1.58,1.63,1.68,1.74,1.8,1.86]],
[.75,[.01,.04,.07,.09,.13,.15,.18,.22,.25,.27,.31,.34,.36,.4,.43,.45,.49,.52,.55,.58,.6,.64,.67,.69,.73,.76,.78,.82,.85,.88,.9,.94,.97,.99,1.03,1.06,1.08,1.12,1.15,1.18,1.21,1.24,1.27,1.3,1.33,1.36,1.39,1.42,1.45,1.48,1.51,1.55,1.6,1.66,1.72,1.77,1.83,1.9]],
[.9,[.03,.06,.1,.14,.17,.2,.24,.28,.3,.33,.37,.41,.44,.47,.5,.53,.56,.6,.62,.65,.68,.71,.74,.77,.8,.83,.86,.89,.92,.95,.98,1.01,1.04,1.07,1.1,1.13,1.16,1.19,1.22,1.25,1.28,1.31,1.34,1.37,1.4,1.43,1.46,1.49,1.53,1.57,1.62,1.68,1.75]],
[1.05,[.08,.13,.16,.2,.23,.27,.31,.35,.38,.42,.45,.48,.51,.54,.57,.61,.63,.66,.69,.72,.75,.78,.81,.84,.87,.9,.93,.96,.99,1.02,1.05,1.08,1.11,1.14,1.17,1.2,1.23,1.27,1.3,1.34,1.38,1.42,1.45,1.48,1.52,1.56,1.6,1.65,1.72,1.8]],
[1.2,[.12,.15,.19,.24,.28,.32,.36,.4,.44,.47,.5,.53,.56,.59,.63,.66,.7,.73,.76,.79,.82,.85,.88,.92,.95,.98,1.02,1.05,1.09,1.13,1.17,1.21,1.25,1.31,1.37,1.42,1.46,1.5,1.55,1.6,1.64,1.7]],
[1.38,[.11,.22,.3,.34,.39,.43,.46,.51,.55,.58,.62,.67,.71,.75,.78,.83,.87,.91,.96,1,1.06,1.1,1.15,1.2,1.28,1.35,1.44,1.49,1.53,1.58,1.62,1.68,1.73,1.79]],
[1.58,[.27,.33,.41,.46,.53,.57,.61,.66,.7,.74,.79,.84,.9,.95,1.03,1.09,1.16,1.23,1.3,1.39,1.47,1.52,1.58,1.64,1.71,1.76,1.83,1.9]],
[1.8,[.48,.54,.6,.68,.75,.83,.87,.94,1.02,1.08,1.15,1.27,1.36,1.44,1.55,1.63,1.7,1.75]]
];

const panelTitles=["2009","2010","2011","2012","2013","2009-2013"];
const rowsToPoints=rows=>rows.flatMap(([v,xs])=>xs.map(u=>[u,v]));
const year2009=points2009.concat(rowsToPoints(band2009));
const year2010=points2010.concat(rowsToPoints(band2010));
const year2011=points2011.concat(rowsToPoints(band2011));
const year2012=points2012.concat(rowsToPoints(band2012));
const year2013=points2013.concat(rowsToPoints(band2013));
const pooled=[].concat(year2009,year2010,year2011,year2012,year2013,rowsToPoints(poolExtra));
const panelPoints=[year2009,year2010,year2011,year2012,year2013,pooled];

const W=1141,H=800;
const navy="#1a476f", red="#cf0a3c", bg="#eaf2f3";
const svg=d3.select("#chart").append("svg").attr("width",W).attr("height",H);
svg.append("rect").attr("x",9).attr("y",13).attr("width",W-9).attr("height",H-13).attr("fill",bg);
svg.append("text").attr("x",590).attr("y",55).attr("text-anchor","middle").attr("font-size",20.5).attr("fill","#24406b").attr("textLength",685).attr("lengthAdjust","spacingAndGlyphs").text(chartTitle);

const colLeft=[99,653], rowTop=[103,347,590];
const pw=463,ph=135;
panelTitles.forEach((t,i)=>{
  const col=i%2,row=Math.floor(i/2);
  const left=colLeft[col],top=rowTop[row];
  const is2013=t==="2013";
  const ticks=is2013?yTicks2013:yTicksMain;
  const ymax=ticks[ticks.length-1];
  const x=d3.scaleLinear().domain([0,2]).range([11.5,450]);
  const y=d3.scaleLinear().domain([0,ymax]).range([123.5,11.5]);
  const g=svg.append("g").attr("transform",`translate(${left},${top})`);
  g.append("rect").attr("width",pw).attr("height",ph).attr("fill","#fff");
  g.selectAll("line.grid").data(ticks).enter().append("line").attr("class","grid")
    .attr("x1",0).attr("x2",pw).attr("y1",d=>y(d)).attr("y2",d=>y(d)).attr("stroke",bg).attr("stroke-width",1.5);
  g.append("line").attr("x1",x(refX)).attr("x2",x(refX)).attr("y1",0).attr("y2",ph).attr("stroke",red).attr("stroke-width",col?1.8:1.3);
  g.append("line").attr("x1",0).attr("x2",pw).attr("y1",y(refY)).attr("y2",y(refY)).attr("stroke",red).attr("stroke-width",1.3);
  g.selectAll("circle").data(panelPoints[i]).enter().append("circle")
    .attr("cx",d=>x(d[0])).attr("cy",d=>y(d[1])).attr("r",2.4).attr("fill",navy);
  const ax=d3.axisBottom(x).tickValues(xTickValues).tickFormat((d,k)=>xTickLabels[k]).tickSize(8).tickPadding(7);
  const gx=g.append("g").attr("transform",`translate(0,${ph})`).call(ax);
  gx.select(".domain").attr("stroke","#111").attr("stroke-width",1.5).attr("d",`M0,0H${pw}`);
  gx.selectAll("text").attr("font-size",18).attr("fill","#111").attr("font-family","Liberation Sans")
    .attr("transform","scale(1.1,1)");
  const ay=d3.axisLeft(y).tickValues(ticks).tickFormat(d3.format("d")).tickSize(8);
  const gy=g.append("g").call(ay);
  gy.select(".domain").attr("stroke","#111").attr("stroke-width",1.5).attr("d",`M0,0V${ph}`);
  gy.selectAll("text").attr("font-size",18).attr("fill","#111").attr("font-family","Liberation Sans")
    .attr("x",0).attr("y",0).attr("dy",0).attr("text-anchor","middle")
    .attr("transform","translate(-15,0) scale(1.15,1) rotate(-90)");
  gx.selectAll(".tick line").attr("stroke","#111");gy.selectAll(".tick line").attr("stroke","#111");
  g.append("text").attr("x",x(1)).attr("y",-6).attr("text-anchor","middle").attr("font-size",14.7).attr("fill","#24406b").text(t);
  g.append("text").attr("x",x(1)).attr("y",ph+44).attr("text-anchor","middle").attr("font-size",14.7).attr("fill","#222").text("Asset index");
  if(col===0){
    const lbl=is2013?"Relative Income":"Relative income";
    g.append("text").attr("transform",`translate(377,${67}) rotate(-90)`).attr("text-anchor","middle").attr("font-size",14.6).attr("fill","#222").text(lbl);
  }
});
</script></body></html>
